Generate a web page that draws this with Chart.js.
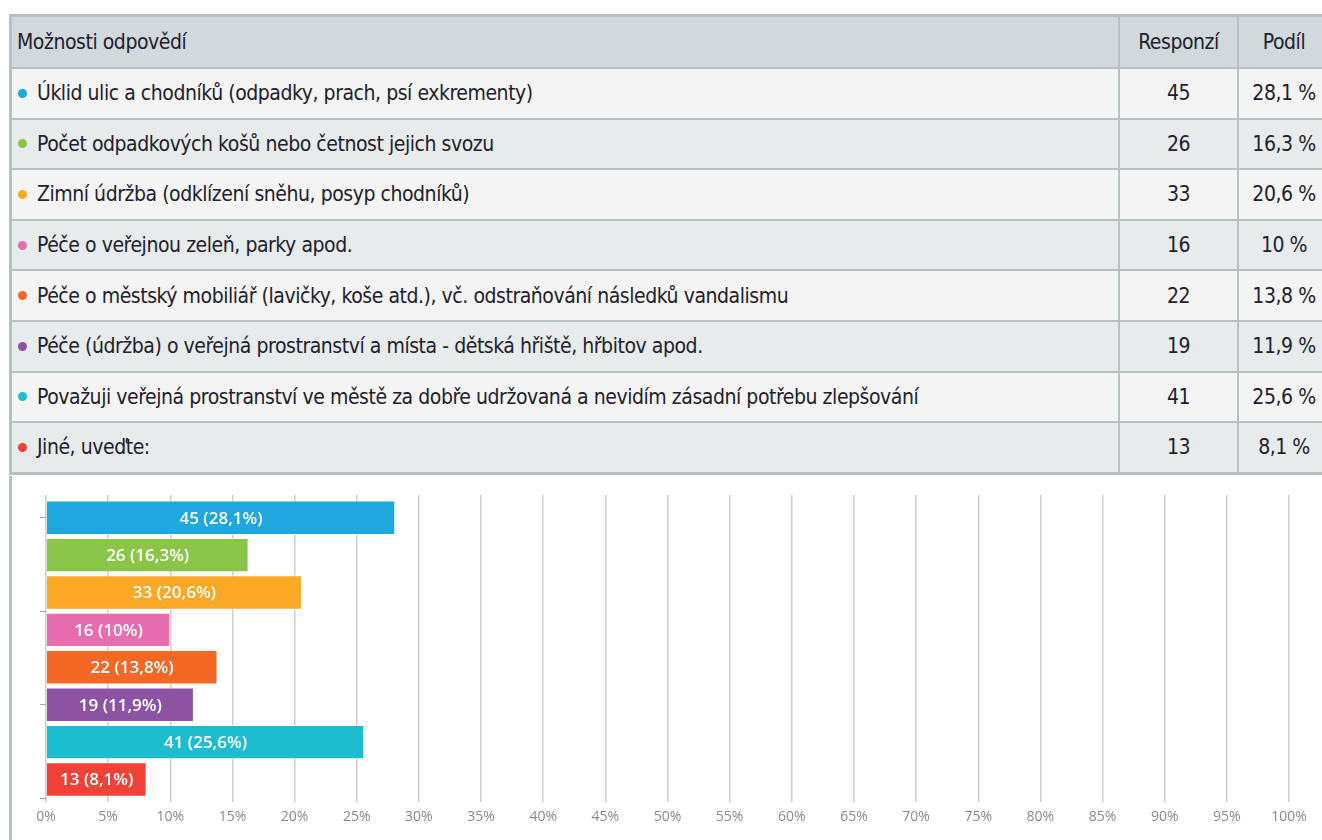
<!DOCTYPE html>
<html lang="cs">
<head>
    <meta charset="UTF-8">
    <title>Možnosti odpovědí</title>
    <style>
        body {
            margin: 0;
            width: 1322px;
            height: 840px;
            overflow: hidden;
            background: #ffffff;
            position: relative;
        }

        #table {
            position: absolute;
            left: 9px;
            top: 14px;
            display: grid;
            grid-template-columns: 1106px 117px 90px;
            grid-template-rows: 50px repeat(8, 48.6px);
            gap: 2px;
            background: #b7c1c4;
            border: 3px solid #b7c1c4;
            font-family: "Liberation Sans Narrow", "DejaVu Sans Condensed", sans-serif;
            font-size: 21px;
            letter-spacing: -0.45px;
            color: #22202e;
        }

        #table .cell {
            display: flex;
            align-items: center;
            white-space: nowrap;
            overflow: hidden;
        }

        #table .head { background: #d1d9dc; }
        #table .odd { background: #f4f4f4; }
        #table .even { background: #e7ebec; }
        #table .num { justify-content: center; }
        #table .txt { padding-left: 5px; }

        .dot {
            display: inline-block;
            width: 9px;
            height: 9px;
            border-radius: 50%;
            margin: 0 10px 0 1px;
        }

        #chartBox {
            position: absolute;
            left: 9px;
            top: 476px;
            width: 1313px;
            height: 364px;
            border-left: 3px solid #b7c1c4;
        }
    </style>
</head>
<body>
    <div id="table"></div>
    <div id="chartBox"><canvas id="barChart"></canvas></div>

    <script src="https://cdn.jsdelivr.net/npm/chart.js"></script>
    <script>
        const headers = ['Možnosti odpovědí', 'Responzí', 'Podíl'];
        const categories = [
            'Úklid ulic a chodníků (odpadky, prach, psí exkrementy)',
            'Počet odpadkových košů nebo četnost jejich svozu',
            'Zimní údržba (odklízení sněhu, posyp chodníků)',
            'Péče o veřejnou zeleň, parky apod.',
            'Péče o městský mobiliář (lavičky, koše atd.), vč. odstraňování následků vandalismu',
            'Péče (údržba) o veřejná prostranství a místa - dětská hřiště, hřbitov apod.',
            'Považuji veřejná prostranství ve městě za dobře udržovaná a nevidím zásadní potřebu zlepšování',
            'Jiné, uveďte:'
        ];
        const responses = [45, 26, 33, 16, 22, 19, 41, 13];
        const shares = [28.1, 16.3, 20.6, 10, 13.8, 11.9, 25.6, 8.1];
        const colors = ['#1fa7e0', '#8bc548', '#fba826', '#e86dae', '#f26824', '#8c53a2', '#1bbdce', '#ef4237'];
        const xTicks = [0, 5, 10, 15, 20, 25, 30, 35, 40, 45, 50, 55, 60, 65, 70, 75, 80, 85, 90, 95, 100];
        const yMarks = [0, 2.5, 5, 7.5];

        const fmt = v => String(v).replace('.', ',');

        // tabulka nad grafem
        const table = document.getElementById('table');
        function addCell(cls, content) {
            const d = document.createElement('div');
            d.className = 'cell ' + cls;
            d.innerHTML = content;
            table.appendChild(d);
        }
        addCell('head txt', headers[0]);
        addCell('head num', headers[1]);
        addCell('head num', headers[2]);
        categories.forEach((c, i) => {
            const bg = i % 2 === 0 ? 'odd' : 'even';
            addCell(bg + ' txt', '<span class="dot" style="background:' + colors[i] + '"></span>' + c);
            addCell(bg + ' num', responses[i]);
            addCell(bg + ' num', fmt(shares[i]) + '&nbsp;%');
        });

        const barLabels = {
            id: 'barLabels',
            afterDatasetsDraw(chart) {
                const ctx = chart.ctx;
                const meta = chart.getDatasetMeta(0);
                ctx.save();
                ctx.fillStyle = '#ffffff';
                ctx.font = '600 17px "Open Sans", sans-serif';
                ctx.textAlign = 'center';
                ctx.textBaseline = 'middle';
                meta.data.forEach((bar, i) => {
                    const p = bar.getProps(['x', 'y', 'base'], true);
                    ctx.fillText(responses[i] + ' (' + fmt(shares[i]) + '%)', (p.x + p.base) / 2, p.y + 1);
                });
                ctx.restore();
            }
        };

        new Chart(document.getElementById('barChart').getContext('2d'), {
            type: 'bar',
            data: {
                labels: categories,
                datasets: [{
                    data: shares,
                    backgroundColor: colors,
                    borderColor: 'rgba(255,255,255,0.7)',
                    borderWidth: 1,
                    barPercentage: 0.92,
                    categoryPercentage: 1
                }]
            },
            options: {
                indexAxis: 'y',
                responsive: true,
                maintainAspectRatio: false,
                animation: false,
                layout: { padding: { left: 28, right: 36, top: 19, bottom: 9 } },
                plugins: {
                    legend: { display: false },
                    tooltip: { enabled: false }
                },
                scales: {
                    x: {
                        min: 0,
                        max: 100,
                        afterBuildTicks: axis => { axis.ticks = xTicks.map(v => ({ value: v })); },
                        grid: { color: '#cdcdcd', lineWidth: 1.5, tickLength: 4 },
                        border: { display: false },
                        ticks: {
                            padding: 6,
                            color: '#838a96',
                            font: { family: '"Open Sans", sans-serif', size: 14 },
                            callback: v => v + '%'
                        }
                    },
                    x2: {
                        position: 'top',
                        min: 0,
                        max: 100,
                        afterBuildTicks: axis => { axis.ticks = xTicks.map(v => ({ value: v })); },
                        grid: { drawOnChartArea: false, color: '#cdcdcd', lineWidth: 1.5, tickLength: 4 },
                        border: { display: false },
                        ticks: { display: false }
                    },
                    y: {
                        display: false
                    },
                    // osa s drobnými značkami vlevo (krok 2,5 kategorie)
                    y2: {
                        type: 'linear',
                        position: 'left',
                        reverse: true,
                        offset: false,
                        min: -0.5,
                        max: 7.5,
                        afterBuildTicks: axis => { axis.ticks = yMarks.map(v => ({ value: v })); },
                        grid: { offset: false, drawOnChartArea: false, color: '#9aa8b4', lineWidth: 1, tickLength: 6 },
                        border: { display: false },
                        ticks: { display: false }
                    }
                }
            },
            plugins: [barLabels]
        });
    </script>
</body>
</html>
